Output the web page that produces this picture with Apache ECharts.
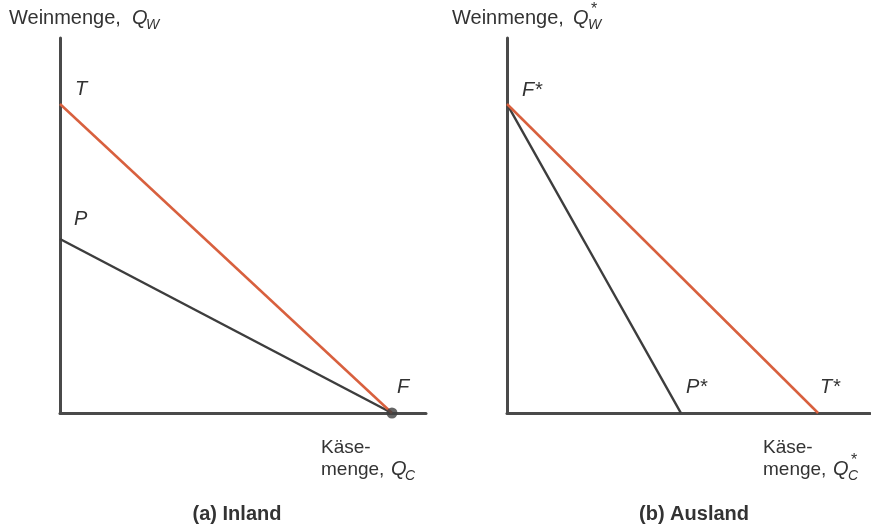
<!DOCTYPE html>
<html>
<head>
<meta charset="utf-8">
<script src="https://cdn.jsdelivr.net/npm/echarts@6/dist/echarts.min.js"></script>
<style>html,body{margin:0;padding:0;background:#fff}#c{width:871px;height:526px}</style>
</head>
<body>
<div id="c"></div>
<script>
// Panel (a) Inland
const homeT = [[0, 82.4], [90.7, 0]];   // trade possibility line
const homeP = [[0, 46.4], [90.7, 0]];   // production possibility line
const homeF = [[90.7, 0]];
// Panel (b) Ausland
const foreignT = [[0, 82.4], [85.7, 0]];
const foreignP = [[0, 82.4], [47.9, 0]];

const RED = '#d8603e', DARK = '#3d3d3d', TXT = '#333333';
const FONT = '"Liberation Sans", Arial, sans-serif';

const chart = echarts.init(document.getElementById('c'), null, {renderer: 'canvas'});

function axisCommon(extra) {
  return Object.assign({
    type: 'value', min: 0, max: 100,
    axisLine: {show: true, onZero: true, lineStyle: {color: '#4a4a4a', width: 3}},
    axisTick: {show: false}, axisLabel: {show: false}, splitLine: {show: false}
  }, extra);
}

function txt(x, y, s, opts) {
  return {type: 'text', left: x, top: y, silent: true,
    style: Object.assign({text: s, fill: TXT, font: '20px ' + FONT}, opts || {})};
}
function it(x, y, s, size) {
  return txt(x, y, s, {font: 'italic ' + (size || 20) + 'px ' + FONT});
}
const X19 = {font: '19px ' + FONT};

chart.setOption({
  animation: false,
  grid: [
    {left: 60, top: 38, width: 366, height: 375},
    {left: 507, top: 38, width: 363, height: 375}
  ],
  xAxis: [axisCommon({gridIndex: 0}), axisCommon({gridIndex: 1})],
  yAxis: [axisCommon({gridIndex: 0}), axisCommon({gridIndex: 1})],
  series: [
    {type: 'line', xAxisIndex: 0, yAxisIndex: 0, data: homeP, symbol: 'none',
     lineStyle: {color: DARK, width: 2.5}},
    {type: 'line', xAxisIndex: 0, yAxisIndex: 0, data: homeT, symbol: 'none',
     lineStyle: {color: RED, width: 2.5}},
    {type: 'line', xAxisIndex: 1, yAxisIndex: 1, data: foreignP, symbol: 'none',
     lineStyle: {color: DARK, width: 2.5}},
    {type: 'line', xAxisIndex: 1, yAxisIndex: 1, data: foreignT, symbol: 'none',
     lineStyle: {color: RED, width: 2.5}},
    {type: 'scatter', xAxisIndex: 0, yAxisIndex: 0, data: homeF, symbolSize: 11,
     itemStyle: {color: DARK}, z: 5}
  ],
  graphic: [
    // left y title
    txt(9, 8, 'Weinmenge,'),
    it(132, 8, 'Q'),
    it(146, 18, 'W', 14),
    // right y title
    txt(452, 8, 'Weinmenge,'),
    it(573, 8, 'Q'),
    txt(591, 2, '*', {font: '16px ' + FONT}),
    it(588, 18, 'W', 14),
    // left x title
    txt(321, 438, 'Käse-', X19),
    txt(321, 460, 'menge,', X19),
    it(391, 459, 'Q'),
    it(405, 469, 'C', 14),
    // right x title
    txt(763, 438, 'Käse-', X19),
    txt(763, 460, 'menge,', X19),
    it(833, 459, 'Q'),
    txt(851, 453, '*', {font: '16px ' + FONT}),
    it(848, 469, 'C', 14),
    // point labels
    it(75, 79, 'T'),
    it(74, 209, 'P'),
    it(397, 377, 'F'),
    it(522, 80, 'F*'),
    it(686, 377, 'P*'),
    it(820, 377, 'T*'),
    // panel titles
    {type: 'text', x: 237, y: 514, silent: true,
     style: {text: '(a) Inland', fill: TXT, font: 'bold 20px ' + FONT, align: 'center', verticalAlign: 'middle'}},
    {type: 'text', x: 694, y: 514, silent: true,
     style: {text: '(b) Ausland', fill: TXT, font: 'bold 20px ' + FONT, align: 'center', verticalAlign: 'middle'}}
  ]
});
</script>
</body>
</html>
